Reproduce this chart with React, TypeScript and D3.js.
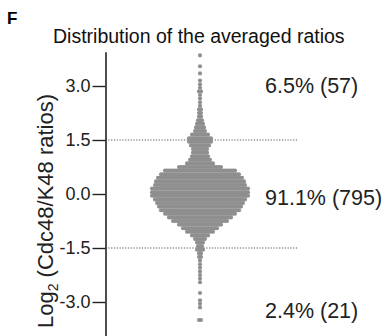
import * as d3 from "d3";
import { useEffect, useRef } from "react";

// histogram of log2 ratios (bin centre, count per 0.1 bin)
const binValues = [
  3.85, 3.55, 3.35, 3.15, 3.05, 2.95, 2.85, 2.75, 2.65, 2.55, 2.45, 2.35, 2.25, 2.15, 2.05, 1.95, 1.85, 1.75, 1.65, 1.55,
  1.45, 1.35, 1.25, 1.15, 1.05, 0.95, 0.85, 0.75, 0.65, 0.55, 0.45, 0.35, 0.25, 0.15, 0.05,
  -0.05, -0.15, -0.25, -0.35, -0.45, -0.55, -0.65, -0.75, -0.85, -0.95, -1.05, -1.15, -1.25, -1.35, -1.45,
  -1.55, -1.65, -1.75, -1.85, -1.95, -2.05, -2.15, -2.25, -2.35, -2.45, -2.75, -2.95, -3.05, -3.15, -3.5,
];
const binCounts = [
  1, 1, 1, 1, 1, 1, 2, 1, 1, 1, 1, 2, 2, 2, 3, 4, 5, 6, 9, 12,
  12, 10, 8, 8, 9, 11, 14, 22, 36, 40, 43, 45, 46, 49, 49,
  49, 46, 44, 42, 40, 36, 32, 28, 22, 18, 14, 9, 6, 4, 3,
  4, 2, 2, 1, 1, 1, 1, 1, 1, 1, 1, 1, 1, 1, 2,
];

const yTicks = [3.0, 1.5, 0.0, -1.5, -3.0];
const cutoffs = [1.5, -1.5];
const groupLabels = ["6.5% (57)", "91.1% (795)", "2.4% (21)"];
const groupLabelValues = [2.8, -0.3, -3.45];

const FONT = "'Liberation Sans', Arial, sans-serif";

const App = () => {
  const ref = useRef(null);
  const width = 382;
  const height = 336;

  useEffect(() => {
    const svg = d3.select(ref.current);
    svg.selectAll("*").remove();

    const axisX = 105.5;
    const centerX = 200;

    const y = d3.scaleLinear().domain([-3.95, 3.95]).range([336.2, 51.8]);
    // slot index within a row -> pixel x
    const x = d3.scaleLinear().domain([0, 1]).range([centerX, centerX + 2]);

    // panel letter + title
    svg
      .append("text")
      .attr("x", 7)
      .attr("y", 24)
      .attr("font-family", FONT)
      .attr("font-weight", "bold")
      .attr("font-size", 17)
      .text("F");

    svg
      .append("text")
      .attr("x", 53)
      .attr("y", 43)
      .attr("font-family", FONT)
      .attr("font-size", 19.5)
      .attr("fill", "#111")
      .text("Distribution of the averaged ratios");

    // dotted cutoff lines
    svg
      .selectAll(".cut")
      .data(cutoffs)
      .join("line")
      .attr("x1", axisX)
      .attr("x2", 298)
      .attr("y1", (d) => y(d))
      .attr("y2", (d) => y(d))
      .attr("stroke", "#555")
      .attr("stroke-width", 1)
      .attr("stroke-dasharray", "1.2,1.6");

    // swarm points: each bin becomes a row centred on the swarm axis
    const points = binValues.flatMap((v, i) =>
      d3.range(binCounts[i]).map((j) => ({ v, slot: j - (binCounts[i] - 1) / 2 }))
    );
    svg
      .append("g")
      .selectAll("circle")
      .data(points)
      .join("circle")
      .attr("cx", (d) => x(d.slot))
      .attr("cy", (d) => y(d.v))
      .attr("r", 2.05)
      .attr("fill", "#8f8f8f");

    // y axis
    const axis = svg
      .append("g")
      .attr("transform", `translate(${axisX},0)`)
      .call(
        d3
          .axisLeft(y)
          .tickValues(yTicks)
          .tickFormat((d) => d.toFixed(1))
          .tickSize(13)
          .tickSizeOuter(0)
          .tickPadding(2)
      );
    axis.select(".domain").attr("stroke", "#222").attr("stroke-width", 1.6);
    axis.selectAll(".tick line").attr("stroke", "#222").attr("stroke-width", 1.4);
    axis
      .selectAll(".tick text")
      .attr("font-family", FONT)
      .attr("font-size", 18)
      .attr("fill", "#222");

    // y axis title with subscript
    const yl = svg
      .append("text")
      .attr("transform", "translate(53,211) rotate(-90)")
      .attr("text-anchor", "middle")
      .attr("font-family", FONT)
      .attr("font-size", 22)
      .attr("fill", "#222");
    yl.append("tspan").text("Log");
    yl.append("tspan").attr("font-size", 14).attr("dy", 5).text("2");
    yl.append("tspan").attr("dy", -5).text(" (Cdc48/K48 ratios)");

    // group percentages
    svg
      .selectAll(".grp")
      .data(groupLabels)
      .join("text")
      .attr("x", 265)
      .attr("y", (d, i) => y(groupLabelValues[i]))
      .attr("font-family", FONT)
      .attr("font-size", 21.5)
      .attr("fill", "#222")
      .text((d) => d);
  });

  return <svg width={width} height={height} ref={ref} style={{ position: "absolute", left: 0, top: 0 }} />;
};

export default App;
